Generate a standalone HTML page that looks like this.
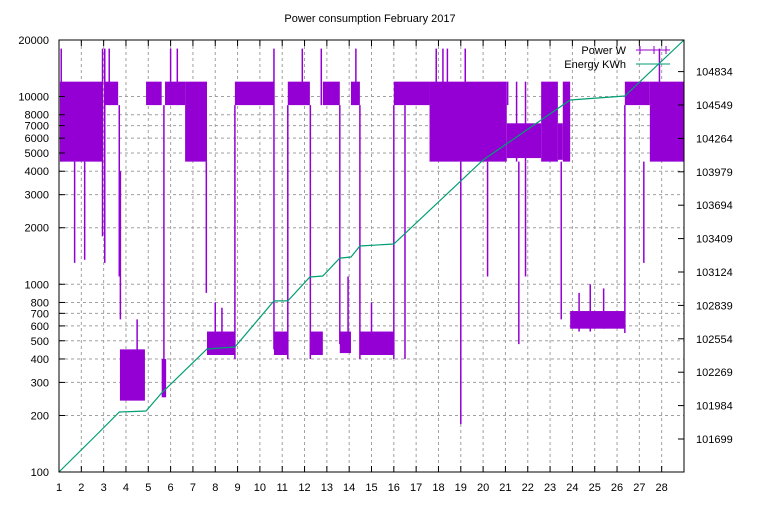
<!DOCTYPE html>
<html><head><meta charset="utf-8"><style>
body{margin:0;background:#fff;font-family:"Liberation Sans",sans-serif;}
svg text{font-family:"Liberation Sans",sans-serif;font-size:11px;fill:#000;}
</style></head><body>
<svg id="chart" width="768" height="500" xmlns="http://www.w3.org/2000/svg">
<rect width="768" height="500" fill="#fff"/>
<text x="370" y="22" text-anchor="middle">Power consumption February 2017</text>
<g id="grid"></g><g id="power"></g><g id="energy"></g><g id="axes"></g>
<g>
<text x="626" y="54" text-anchor="end">Power W</text>
<line x1="636" y1="50" x2="670" y2="50" stroke="#9400d3"/>
<line x1="640" y1="46" x2="640" y2="54" stroke="#9400d3"/>
<line x1="654" y1="46" x2="654" y2="54" stroke="#9400d3"/>
<line x1="666" y1="46" x2="666" y2="54" stroke="#9400d3"/>
<text x="626" y="68" text-anchor="end">Energy KWh</text>
<line x1="636" y1="64" x2="670" y2="64" stroke="#009e73"/>
</g>
</svg>
<script>
const xTicks=[1,2,3,4,5,6,7,8,9,10,11,12,13,14,15,16,17,18,19,20,21,22,23,24,25,26,27,28];
const yTicks=[100,200,300,400,500,600,700,800,1000,2000,3000,4000,5000,6000,7000,8000,10000,20000];
const y2Ticks=[101699,101984,102269,102554,102839,103124,103409,103694,103979,104264,104549,104834];
// power blocks: start day, end day, low W, high W
const powerBlocks=[[1.04,2.93,4500,12000],[3.06,3.65,9000,12000],[3.73,4.85,240,450],[4.9,5.6,9000,12000],[5.6,5.8,250,400],[5.75,6.65,9000,12000],[6.65,7.63,4500,12000],[7.63,8.88,420,560],[8.88,10.63,9000,12000],[10.63,11.25,420,560],[11.25,12.24,9000,12000],[12.24,12.82,420,560],[12.82,13.58,9000,12000],[13.58,14.08,430,560],[14.08,14.48,9000,12000],[14.48,16.0,420,560],[16.0,17.6,9000,12000],[17.6,21.06,4500,12000],[21.06,22.6,4700,7200],[22.6,23.35,4500,12000],[23.35,23.57,4600,7200],[23.57,23.9,4500,12000],[23.9,26.35,580,720],[26.35,27.47,9000,12000],[27.47,29,4500,12000]];
// spikes: day, low W, high W
const powerSpikes=[[1.1,4500,18000],[1.7,1300,4500],[2.15,1350,4500],[2.95,1800,18000],[3.05,1300,18000],[3.25,9000,18000],[3.7,1100,9000],[3.75,650,4000],[4.5,300,650],[5.7,250,9000],[6.0,9000,18000],[6.3,9000,18000],[7.6,900,4500],[8.0,420,800],[8.3,420,750],[8.88,400,9000],[10.63,450,18000],[11.25,400,9000],[11.9,9000,18000],[12.26,400,9000],[12.75,9000,18000],[13.58,480,9000],[13.95,450,1100],[14.3,9000,18000],[14.48,400,9000],[15.0,420,800],[16.0,400,9000],[16.5,400,9000],[17.9,9000,18000],[18.2,9000,18000],[18.4,9000,18000],[19.0,180,4500],[19.2,9000,18000],[20.2,1100,4500],[21.1,9000,12000],[21.6,480,4500],[21.9,1100,4500],[21.5,4500,12000],[21.9,4500,12000],[23.5,650,4500],[24.3,560,900],[24.8,560,1000],[25.4,580,950],[26.35,550,9000],[27.2,1300,4500],[27.9,9000,18000]];
const energyDays=[1.0,2.9,3.7,4.9,5.6,7.63,8.88,10.63,11.25,12.24,12.82,13.58,14.08,14.48,16.0,20.0,23.9,26.35,29.0];
const energyVals=[101417,101776,101929,101938,102092,102467,102484,102877,102877,103081,103090,103243,103252,103346,103363,104080,104592,104626,105104];

const L=59,R=684,T=40,B=472;
const xs=d=>L+(d-1)/28*(R-L);
const ys=v=>B-(Math.log10(v)-2)/Math.log10(200)*(B-T);
const y2s=v=>B-(v-101417.4)/(105103.7-101417.4)*(B-T);
const NS="http://www.w3.org/2000/svg";
function mk(tag,attrs,parent){const e=document.createElementNS(NS,tag);for(const k in attrs)e.setAttribute(k,attrs[k]);document.getElementById(parent).appendChild(e);return e;}

xTicks.forEach(d=>{const x=xs(d);
 if(d>1){const g=mk('line',{x1:x,y1:T,x2:x,y2:B,stroke:'#a0a0a0','stroke-dasharray':'3,3'},'grid');
 
 }
 mk('line',{x1:x,y1:B,x2:x,y2:B-6,stroke:'#000'},'axes');
 mk('line',{x1:x,y1:T,x2:x,y2:T+6,stroke:'#000'},'axes');
 const t=mk('text',{x:x,y:B+19,'text-anchor':'middle'},'axes');t.textContent=d;
 
 });
yTicks.forEach(v=>{const y=ys(v);
 if(v>100&&v<20000){const g=mk('line',{x1:L,y1:y,x2:R,y2:y,stroke:'#a0a0a0','stroke-dasharray':'3,3'},'grid');
 
 }
 mk('line',{x1:L,y1:y,x2:L+6,y2:y,stroke:'#000'},'axes');
 const t=mk('text',{x:L-10,y:y+4,'text-anchor':'end'},'axes');t.textContent=v;
 
 });
y2Ticks.forEach(v=>{const y=y2s(v);
 mk('line',{x1:R,y1:y,x2:R-6,y2:y,stroke:'#000'},'axes');
 const t=mk('text',{x:R+12,y:y+4,'text-anchor':'start'},'axes');t.textContent=v;
 
 });
const fr=mk('rect',{x:L,y:T,width:R-L,height:B-T,fill:'none',stroke:'#000'},'axes');



powerBlocks.forEach(b=>{const x1=xs(b[0]),x2=xs(b[1]),y1=ys(b[3]),y2=ys(b[2]);
 const r=mk('rect',{x:x1,y:y1,width:Math.max(1,x2-x1),height:y2-y1,fill:'#9400d3'},'power');
 
 });
powerSpikes.forEach(s=>{const x=xs(s[0]);
 const l=mk('line',{x1:x,y1:ys(s[2]),x2:x,y2:ys(s[1]),stroke:'#9400d3','stroke-width':1.5},'power');
 
 });
const pts=energyDays.map((d,i)=>xs(d).toFixed(1)+','+y2s(energyVals[i]).toFixed(1)).join(' ');
const pl=mk('polyline',{points:pts,fill:'none',stroke:'#009e73','stroke-width':1.2},'energy');


</script>
</body></html>
